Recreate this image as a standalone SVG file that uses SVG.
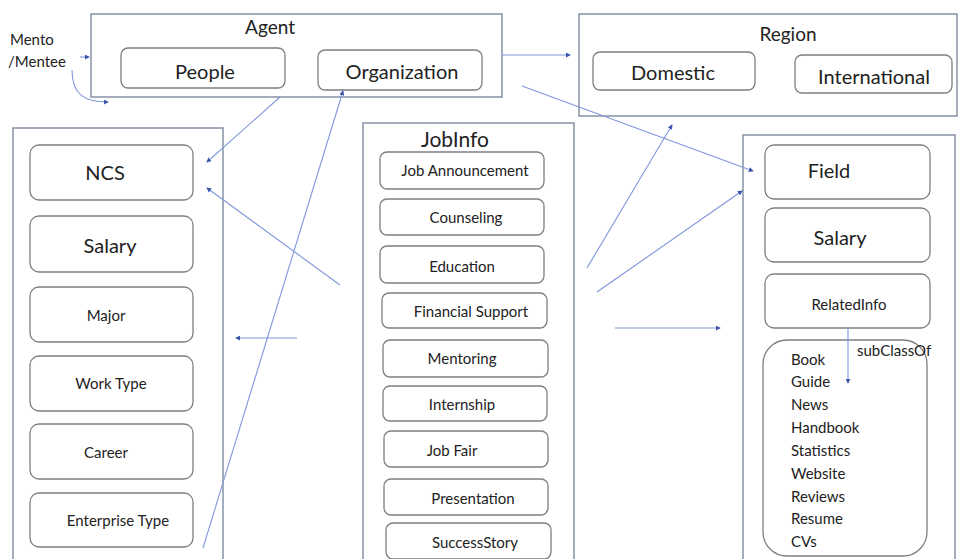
<svg xmlns="http://www.w3.org/2000/svg" width="965" height="559" viewBox="0 0 965 559">
<defs>
<marker id="ah" viewBox="0 0 6 6" refX="5" refY="3" markerWidth="5" markerHeight="5" orient="auto" markerUnits="userSpaceOnUse">
<path d="M0,0 L6,3 L0,6 z" fill="#3a56a8"/>
</marker>
<style>
.outer{fill:#fff;stroke:#8792a6;stroke-width:1.5}
.item{fill:#fff;stroke:#7d7f85;stroke-width:1.3}
.t{font-family:Lato,"Open Sans","Liberation Sans",sans-serif;fill:#222;text-anchor:middle;dominant-baseline:central}
.tl{font-family:Lato,"Open Sans","Liberation Sans",sans-serif;fill:#222}
.c{fill:none;stroke:#8196dc;stroke-width:1.1;marker-end:url(#ah)}
</style>
</defs>
<rect width="965" height="559" fill="#fff"/>

<g id="agent">
<rect class="outer" x="91" y="14" width="411" height="83"/>
<text class="t" x="270" y="26" font-size="19">Agent</text>
<g id="people"><rect class="item" x="121" y="48" width="164" height="40" rx="7"/><text class="t" x="205" y="71" font-size="20">People</text></g>
<g id="organization"><rect class="item" x="318" y="50" width="164" height="40" rx="7"/><text class="t" x="402" y="71" font-size="20">Organization</text></g>
</g>
<g id="mento"><text class="tl" x="10" y="45" font-size="15">Mento</text><text class="tl" x="8" y="67" font-size="15">/Mentee</text></g>

<g id="region">
<rect class="outer" x="579" y="14" width="378" height="102"/>
<text class="t" x="788" y="33" font-size="19">Region</text>
<g id="domestic"><rect class="item" x="593" y="52" width="162" height="38" rx="7"/><text class="t" x="673" y="72" font-size="20">Domestic</text></g>
<g id="international"><rect class="item" x="795" y="55" width="157" height="38" rx="7"/><text class="t" x="874" y="76" font-size="20">International</text></g>
</g>

<g id="left">
<rect class="outer" x="13" y="128" width="210" height="440"/>
<g id="ncs"><rect class="item" x="30" y="145" width="163" height="55" rx="9"/><text class="t" x="105" y="172" font-size="20">NCS</text></g>
<g id="salary1"><rect class="item" x="30" y="216" width="163" height="56" rx="9"/><text class="t" x="110" y="245" font-size="20">Salary</text></g>
<g id="major"><rect class="item" x="30" y="287" width="163" height="55" rx="9"/><text class="t" x="106" y="315" font-size="15">Major</text></g>
<g id="worktype"><rect class="item" x="30" y="356" width="163" height="55" rx="9"/><text class="t" x="111" y="383" font-size="15">Work Type</text></g>
<g id="career"><rect class="item" x="30" y="424" width="163" height="55" rx="9"/><text class="t" x="106" y="452" font-size="15">Career</text></g>
<g id="enterprise"><rect class="item" x="30" y="493" width="163" height="54" rx="9"/><text class="t" x="118" y="520" font-size="15">Enterprise Type</text></g>
</g>

<g id="jobinfo">
<rect class="outer" x="363" y="123" width="211" height="445"/>
<text class="t" x="455" y="138" font-size="21">JobInfo</text>
<g id="ja"><rect class="item" x="380" y="152" width="164" height="37" rx="7"/><text class="t" x="465" y="170" font-size="15">Job Announcement</text></g>
<g id="counseling"><rect class="item" x="380" y="199" width="164" height="36" rx="7"/><text class="t" x="466" y="217" font-size="15">Counseling</text></g>
<g id="education"><rect class="item" x="380" y="246" width="164" height="37" rx="7"/><text class="t" x="462" y="266" font-size="15">Education</text></g>
<g id="financial"><rect class="item" x="382" y="293" width="165" height="35" rx="7"/><text class="t" x="471" y="311" font-size="15">Financial Support</text></g>
<g id="mentoring"><rect class="item" x="383" y="340" width="165" height="37" rx="7"/><text class="t" x="462" y="358" font-size="15">Mentoring</text></g>
<g id="internship"><rect class="item" x="383" y="386" width="164" height="35" rx="7"/><text class="t" x="462" y="404" font-size="15">Internship</text></g>
<g id="jobfair"><rect class="item" x="384" y="431" width="164" height="36" rx="7"/><text class="t" x="452" y="450" font-size="15">Job Fair</text></g>
<g id="presentation"><rect class="item" x="384" y="479" width="164" height="36" rx="7"/><text class="t" x="473" y="498" font-size="15">Presentation</text></g>
<g id="success"><rect class="item" x="386" y="523" width="165" height="36" rx="7"/><text class="t" x="475" y="542" font-size="15">SuccessStory</text></g>
</g>

<g id="right">
<rect class="outer" x="743" y="135" width="212" height="433"/>
<g id="field"><rect class="item" x="765" y="145" width="165" height="54" rx="9"/><text class="t" x="829" y="170" font-size="20">Field</text></g>
<g id="salary2"><rect class="item" x="765" y="208" width="165" height="54" rx="9"/><text class="t" x="840" y="237" font-size="20">Salary</text></g>
<g id="related"><rect class="item" x="765" y="274" width="165" height="54" rx="9"/><text class="t" x="849" y="304" font-size="15">RelatedInfo</text></g>
<g id="relatedlist">
<rect class="item" x="763" y="340" width="164" height="216" rx="24"/>
<text class="tl" x="791" font-size="15"><tspan x="791" y="365">Book</tspan><tspan x="791" y="387">Guide</tspan><tspan x="791" y="410">News</tspan><tspan x="791" y="433">Handbook</tspan><tspan x="791" y="456">Statistics</tspan><tspan x="791" y="479">Website</tspan><tspan x="791" y="502">Reviews</tspan><tspan x="791" y="524">Resume</tspan><tspan x="791" y="547">CVs</tspan></text>
</g>
</g>

<g id="connectors">
<path class="c" d="M72,70 C72,95 85,102 108,102"/>
<path class="c" d="M80,57 L89,57"/>
<path class="c" d="M502,55 L570,55"/>
<path class="c" d="M280,97 L207,162"/>
<path class="c" d="M203,548 L343,91"/>
<path class="c" d="M340,285 L207,188"/>
<path class="c" d="M297,338 L236,338"/>
<path class="c" d="M587,268 L672,125"/>
<path class="c" d="M597,292 L742,191"/>
<path class="c" d="M522,86 L753,171"/>
<path class="c" d="M615,328 L720,328"/>
<path class="c" d="M848,328 L848,383"/>
<text class="tl" x="857" y="356" font-size="15">subClassOf</text>
</g>
</svg>
